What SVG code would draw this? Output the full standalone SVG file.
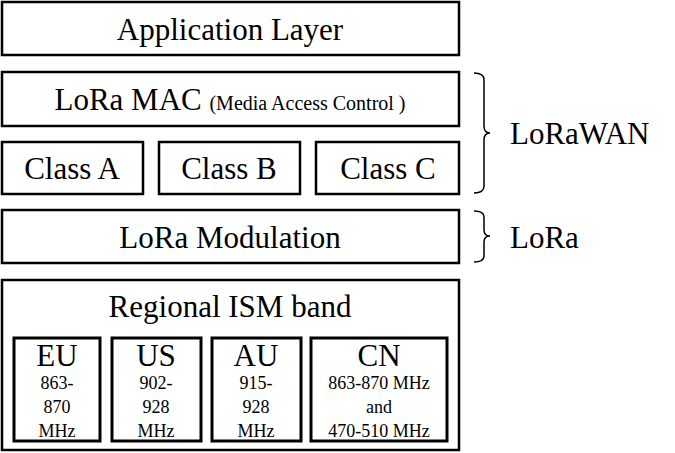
<svg xmlns="http://www.w3.org/2000/svg" width="675" height="453" viewBox="0 0 675 453" font-family="'Liberation Serif', 'Times New Roman', Tinos, 'DejaVu Serif', serif">
<style>
.b{fill:#fff;stroke:#000;stroke-width:2.5}
.i{fill:#fff;stroke:#000;stroke-width:3}
text{fill:#000;text-anchor:middle}
.l{font-size:31px}
.s{font-size:18px}
.br{fill:none;stroke:#000;stroke-width:1.5}
</style>
<g id="app"><rect class="b" x="2" y="2" width="457" height="53"/><text class="l" x="230" y="40">Application Layer</text></g>
<g id="mac"><rect class="b" x="2" y="72" width="457" height="54"/><text class="l" x="230" y="110">LoRa MAC <tspan font-size="20px">(Media Access Control )</tspan></text></g>
<g id="classA"><rect class="b" x="2" y="142" width="141" height="52"/><text class="l" x="72" y="179">Class A</text></g>
<g id="classB"><rect class="b" x="159" y="142" width="141" height="52"/><text class="l" x="229" y="179">Class B</text></g>
<g id="classC"><rect class="b" x="316" y="142" width="143" height="52"/><text class="l" x="388" y="179">Class C</text></g>
<g id="mod"><rect class="b" x="2" y="210" width="457" height="53"/><text class="l" x="230" y="248">LoRa Modulation</text></g>
<g id="ism"><rect class="b" x="2" y="280" width="457" height="170"/><text class="l" x="230" y="317">Regional ISM band</text></g>
<g id="eu"><rect class="i" x="14" y="338" width="86" height="103"/><text class="l" x="57" y="366" font-size="26px">EU</text><text class="s" x="57" y="389">863-</text><text class="s" x="57" y="413">870</text><text class="s" x="57" y="437">MHz</text></g>
<g id="us"><rect class="i" x="112" y="338" width="89" height="103"/><text class="l" x="156" y="366" font-size="26px">US</text><text class="s" x="156" y="389">902-</text><text class="s" x="156" y="413">928</text><text class="s" x="156" y="437">MHz</text></g>
<g id="au"><rect class="i" x="212" y="338" width="89" height="103"/><text class="l" x="256" y="366" font-size="26px">AU</text><text class="s" x="256" y="389">915-</text><text class="s" x="256" y="413">928</text><text class="s" x="256" y="437">MHz</text></g>
<g id="cn"><rect class="i" x="311" y="338" width="136" height="103"/><text class="l" x="379" y="366" font-size="26px">CN</text><text class="s" x="379" y="389">863-870 MHz</text><text class="s" x="379" y="413">and</text><text class="s" x="379" y="437">470-510 MHz</text></g>
<g id="connectors">
<path class="br" d="M474,73 Q484,73 484,80 L484,126 Q484,133 490,133 Q484,133 484,140 L484,186 Q484,193 474,193"/>
<path class="br" d="M474,211 Q484,211 484,217 L484,230 Q484,236 490,236 Q484,236 484,242 L484,256 Q484,262 474,262"/>
</g>
<g id="lorawan"><text class="l" x="510" y="144" style="text-anchor:start">LoRaWAN</text></g>
<g id="lora"><text class="l" x="510" y="248" style="text-anchor:start">LoRa</text></g>
</svg>
